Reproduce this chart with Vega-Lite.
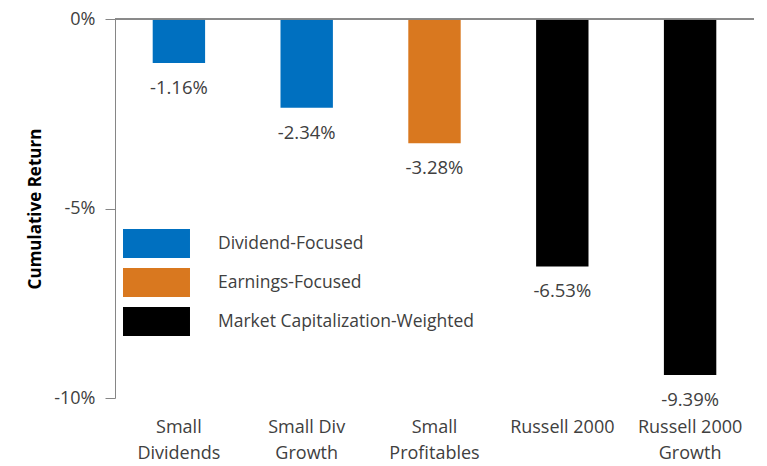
{
  "$schema": "https://vega.github.io/schema/vega-lite/v6.json",
  "autosize": "none",
  "width": 639,
  "height": 379,
  "padding": {"left": 115, "top": 19, "right": 13, "bottom": 68},
  "background": "white",
  "config": {
    "view": {"stroke": null},
    "font": "Open Sans",
    "locale": {
      "number": {"decimal": ".", "thousands": ",", "grouping": [3], "currency": ["$", ""], "minus": "-"}
    }
  },
  "data": {
    "values": [
      {"name": "Small\nDividends", "value": -0.0116, "group": "Dividend-Focused"},
      {"name": "Small Div\nGrowth", "value": -0.0234, "group": "Dividend-Focused"},
      {"name": "Small\nProfitables", "value": -0.0328, "group": "Earnings-Focused"},
      {"name": "Russell 2000", "value": -0.0653, "group": "Market Capitalization-Weighted"},
      {"name": "Russell 2000\nGrowth", "value": -0.0939, "group": "Market Capitalization-Weighted"}
    ]
  },
  "encoding": {
    "x": {
      "field": "name",
      "type": "nominal",
      "sort": null,
      "scale": {"paddingInner": 0.59, "paddingOuter": 0.295},
      "axis": {
        "title": null,
        "labelAngle": 0,
        "domain": false,
        "ticks": false,
        "labelPadding": 20,
        "labelFontSize": 18,
        "labelColor": "#404040",
        "labelLineHeight": 26,
        "labelExpr": "split(datum.label, '\\n')"
      }
    },
    "y": {
      "field": "value",
      "type": "quantitative",
      "scale": {"domain": [-0.1, 0], "nice": false},
      "axis": {
        "title": "Cumulative Return",
        "titleFontSize": 17,
        "titleFontWeight": "bold",
        "titleColor": "#000000",
        "titleX": -80,
        "titleY": 189.5,
        "titleAngle": -90,
        "titleAlign": "center",
        "titleBaseline": "middle",
        "values": [0, -0.05, -0.1],
        "format": ".0%",
        "grid": false,
        "domainColor": "#868686",
        "tickColor": "#868686",
        "tickSize": 10,
        "labelPadding": 10,
        "labelFontSize": 18,
        "labelColor": "#404040"
      }
    }
  },
  "layer": [
    {
      "mark": {"type": "bar"},
      "encoding": {
        "color": {
          "field": "group",
          "type": "nominal",
          "scale": {
            "domain": ["Dividend-Focused", "Earnings-Focused", "Market Capitalization-Weighted"],
            "range": ["#0070C0", "#D9781F", "#000000"]
          },
          "legend": {
            "title": null,
            "orient": "none",
            "legendX": 27,
            "legendY": 210,
            "padding": 0,
            "symbolType": "M-2.31,-1H2.31V1H-2.31Z",
            "symbolSize": 841,
            "symbolStrokeWidth": 0,
            "symbolOpacity": 1,
            "labelFontSize": 17.5,
            "labelColor": "#404040",
            "labelOffset": 47,
            "labelLimit": 400,
            "rowPadding": 10
          }
        }
      }
    },
    {
      "mark": {"type": "text", "baseline": "middle", "dy": 25, "fontSize": 18.5, "color": "#404040"},
      "encoding": {
        "text": {"field": "value", "type": "quantitative", "format": ".2%"}
      }
    },
    {
      "mark": {"type": "rule", "color": "#868686"},
      "encoding": {"y": {"datum": 0}, "x": null}
    }
  ]
}
